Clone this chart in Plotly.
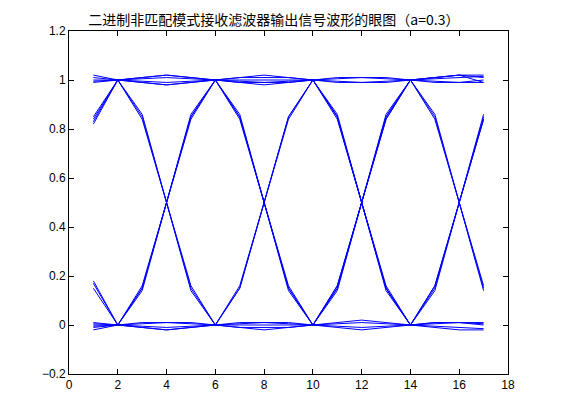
"""
Eye diagram of the mismatched receive filter output (a=0.3).
"""
import plotly.graph_objects as go

samples = list(range(1, 18))

eye_1 = [0.84, 1.00, 0.85, 0.50, 0.15, 0.00, 0.15, 0.50, 0.85, 1.00, 0.85, 0.50, 0.15, 0.00, 0.16, 0.50, 0.84]
eye_2 = [0.17, 0.00, 0.15, 0.50, 0.85, 1.00, 1.01, 1.02, 1.01, 1.00, 0.84, 0.50, 0.16, 0.00, 0.15, 0.50, 0.85]
eye_3 = [1.02, 1.00, 0.84, 0.50, 0.16, 0.00, -0.01, -0.02, -0.01, 0.00, 0.15, 0.50, 0.85, 1.00, 1.01, 1.02, 1.02]
eye_4 = [0.00, 0.00, 0.16, 0.50, 0.84, 1.00, 0.86, 0.50, 0.14, 0.00, 0.01, 0.02, 0.01, 0.00, 0.16, 0.50, 0.84]
eye_5 = [0.99, 1.00, 0.99, 0.98, 0.99, 1.00, 0.84, 0.50, 0.16, 0.00, 0.16, 0.50, 0.84, 1.00, 0.85, 0.50, 0.15]
eye_6 = [-0.02, 0.00, -0.01, -0.02, -0.01, 0.00, 0.15, 0.50, 0.85, 1.00, 1.01, 1.01, 1.01, 1.00, 1.01, 1.02, 1.01]
eye_7 = [0.82, 1.00, 1.01, 1.02, 1.01, 1.00, 0.85, 0.50, 0.15, 0.00, -0.01, -0.02, -0.01, 0.00, 0.14, 0.50, 0.86]
eye_8 = [0.15, 0.00, 0.01, 0.01, 0.01, 0.00, 0.16, 0.50, 0.84, 1.00, 0.99, 0.99, 0.99, 1.00, 0.84, 0.50, 0.16]
eye_9 = [0.85, 1.00, 0.86, 0.50, 0.14, 0.00, 0.01, 0.01, 0.01, 0.00, 0.15, 0.50, 0.85, 1.00, 0.99, 0.99, 0.99]
eye_10 = [0.18, 0.00, 0.14, 0.50, 0.86, 1.00, 0.99, 0.98, 0.99, 1.00, 0.86, 0.50, 0.14, 0.00, -0.01, -0.02, -0.02]
eye_11 = [1.01, 1.00, 1.01, 1.02, 1.01, 1.00, 1.01, 1.01, 1.01, 1.00, 0.85, 0.50, 0.15, 0.00, 0.01, 0.01, 0.00]
eye_12 = [0.01, 0.00, 0.15, 0.50, 0.85, 1.00, 0.85, 0.50, 0.15, 0.00, 0.14, 0.50, 0.86, 1.00, 1.01, 1.02, 0.99]
eye_13 = [-0.01, 0.00, -0.01, -0.02, -0.01, 0.00, -0.01, -0.01, -0.01, 0.00, 0.16, 0.50, 0.84, 1.00, 0.86, 0.50, 0.14]
eye_14 = [0.83, 1.00, 0.99, 0.98, 0.99, 1.00, 0.99, 0.99, 0.99, 1.00, 0.85, 0.50, 0.15, 0.00, 0.01, 0.01, 0.01]
eye_15 = [1.00, 1.00, 1.005, 1.01, 1.005, 1.00, 1.00, 1.00, 1.00, 1.00, 1.005, 1.01, 1.005, 1.00, 0.995, 0.99, 1.00]
eye_16 = [0.995, 1.00, 0.995, 0.99, 0.995, 1.00, 0.995, 0.99, 0.995, 1.00, 0.995, 0.99, 0.995, 1.00, 1.005, 1.01, 1.015]
eye_17 = [0.005, 0.00, 0.005, 0.01, 0.005, 0.00, 0.00, 0.00, 0.00, 0.00, -0.005, -0.01, -0.005, 0.00, 0.005, 0.01, 0.005]
eye_18 = [-0.005, 0.00, -0.005, -0.01, -0.005, 0.00, 0.005, 0.01, 0.005, 0.00, 0.005, 0.01, 0.005, 0.00, -0.005, -0.01, -0.015]

traces = [eye_1, eye_2, eye_3, eye_4, eye_5, eye_6, eye_7, eye_8, eye_9,
          eye_10, eye_11, eye_12, eye_13, eye_14, eye_15, eye_16, eye_17, eye_18]

fig = go.Figure()
for y in traces:
    fig.add_trace(go.Scatter(x=samples, y=y, mode="lines",
                             line=dict(color="#0000ff", width=1), showlegend=False))

axis = dict(showline=True, linecolor="black", linewidth=1, mirror="ticks",
            ticks="inside", ticklen=5, tickcolor="black", showgrid=False,
            zeroline=False, tickfont=dict(family="Liberation Sans", size=12, color="black"))

fig.update_xaxes(range=[0, 18], tick0=0, dtick=2, **axis)
fig.update_yaxes(range=[-0.2, 1.2], tick0=-0.2, dtick=0.2, tickformat="~g", **axis)

fig.update_layout(
    width=561, height=420,
    margin=dict(l=61, r=61, t=23, b=54),
    paper_bgcolor="white", plot_bgcolor="white",
    title=dict(text="二进制非匹配模式接收滤波器输出信号波形的眼图（a=0.3）",
               x=0.474, xanchor="center", y=0.972, yanchor="middle",
               font=dict(family="Noto Sans CJK SC", size=14, color="black")),
)

fig.write_html("out.html")
